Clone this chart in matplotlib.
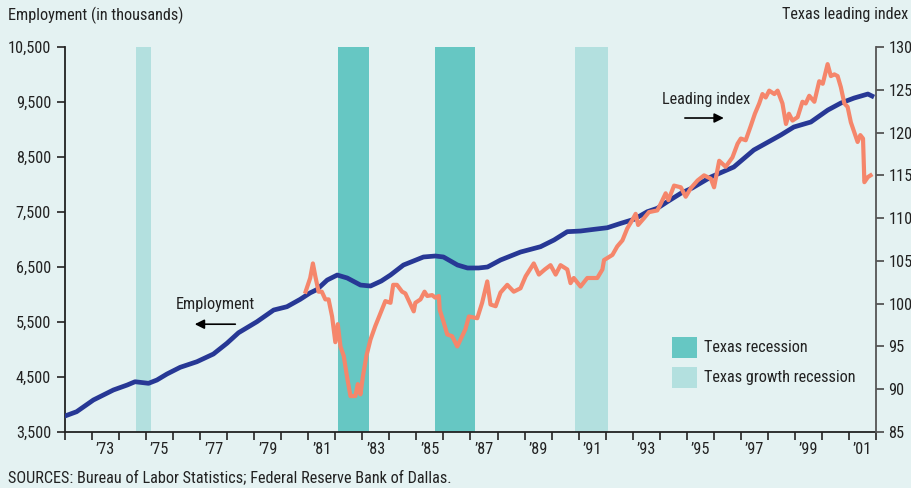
import matplotlib
matplotlib.use("Agg")
import matplotlib.pyplot as plt
from matplotlib.patches import Rectangle
from matplotlib import font_manager as fm

# ---------------- data ----------------
emp_years = [1972.0, 1972.43, 1973.05, 1973.79, 1974.3, 1974.59, 1975.09, 1975.40, 1975.77,
             1976.26, 1976.88, 1977.49, 1977.99, 1978.42, 1979.10, 1979.72, 1980.21, 1980.70,
             1981.07, 1981.32, 1981.7, 1982.07, 1982.44, 1982.93, 1983.30, 1983.7, 1984.04,
             1984.52, 1985.26, 1985.7, 1986.0, 1986.52, 1986.89, 1987.3, 1987.63, 1988.11,
             1988.85, 1989.59, 1990.09, 1990.58, 1991.07, 1991.57, 1992.06, 1992.56, 1993.05,
             1993.54, 1993.91, 1994.28, 1994.78, 1995.2, 1995.89, 1996.74, 1997.48, 1998.48,
             1998.96, 1999.59, 2000.22, 2000.70, 2001.19, 2001.70, 2001.85]
emp_values = [3791, 3869, 4082, 4264, 4354, 4414, 4385, 4445, 4554,
              4676, 4778, 4918, 5113, 5305, 5505, 5718, 5778, 5912,
              6030, 6090, 6263, 6354, 6300, 6172, 6154, 6245, 6354,
              6536, 6682, 6700, 6682, 6536, 6482, 6482, 6500, 6627,
              6772, 6869, 6991, 7142, 7154, 7185, 7214, 7294, 7367,
              7505, 7567, 7687, 7840, 7936, 8136, 8318, 8627, 8900,
              9045, 9136, 9354, 9481, 9572, 9645, 9609]

lead_years = [1980.90, 1981.07, 1981.17, 1981.26, 1981.38, 1981.50, 1981.63, 1981.75, 1981.88,
              1982.00, 1982.09, 1982.19, 1982.31, 1982.43, 1982.56, 1982.74, 1982.83, 1982.93,
              1983.02, 1983.15, 1983.30, 1983.48, 1983.67, 1983.85, 1984.04, 1984.14, 1984.28,
              1984.47, 1984.59, 1984.78, 1984.90, 1984.96, 1985.15, 1985.30, 1985.40, 1985.58,
              1985.70, 1985.83, 1985.86, 1986.01, 1986.14, 1986.32, 1986.51, 1986.69, 1986.81,
              1986.94, 1987.25, 1987.43, 1987.62, 1987.74, 1987.93, 1988.11, 1988.36, 1988.60,
              1988.85, 1989.04, 1989.34, 1989.53, 1989.75, 1989.96, 1990.15, 1990.33, 1990.58,
              1990.70, 1990.82, 1991.07, 1991.32, 1991.69, 1991.88, 1991.94, 1992.25, 1992.43,
              1992.62, 1992.80, 1992.99, 1993.11, 1993.20, 1993.42, 1993.60, 1993.91, 1994.04,
              1994.22, 1994.32, 1994.53, 1994.78, 1994.96, 1995.15, 1995.40, 1995.64, 1995.89,
              1996.01, 1996.20, 1996.44, 1996.69, 1996.88, 1997.00, 1997.18, 1997.37, 1997.52,
              1997.68, 1997.80, 1997.92, 1998.05, 1998.24, 1998.36, 1998.54, 1998.67, 1998.78,
              1998.91, 1999.10, 1999.28, 1999.40, 1999.53, 1999.72, 1999.90, 2000.03, 2000.21,
              2000.33, 2000.46, 2000.58, 2000.70, 2000.83, 2000.95, 2001.07, 2001.20, 2001.32,
              2001.42, 2001.52, 2001.57, 2001.70, 2001.80]
lead_values = [101.4, 103.0, 104.7, 103.2, 101.4, 101.4, 100.5, 100.5, 98.5,
               95.5, 97.6, 95.0, 93.9, 91.5, 89.2, 89.2, 90.6, 89.4,
               91.5, 93.9, 95.8, 97.4, 98.9, 100.3, 100.1, 102.2, 102.2,
               101.4, 101.2, 99.9, 99.1, 100.1, 100.5, 101.4, 100.9, 101.0,
               100.7, 100.9, 99.3, 97.8, 96.4, 96.2, 95.0, 96.2, 97.0,
               98.5, 98.3, 100.1, 102.6, 99.9, 99.7, 101.3, 102.2, 101.4,
               101.8, 103.2, 104.7, 103.4, 104.0, 104.5, 103.4, 104.5, 104.0,
               102.4, 103.0, 102.0, 103.0, 103.0, 104.0, 105.1, 105.7, 106.7,
               107.4, 108.8, 109.8, 110.5, 109.2, 110.0, 110.7, 110.9, 111.7,
               112.9, 112.1, 113.8, 113.6, 112.5, 113.5, 114.4, 115.0, 114.6,
               113.6, 116.7, 116.0, 117.1, 118.7, 119.3, 119.1, 120.8, 122.2,
               123.4, 124.5, 124.1, 124.9, 124.5, 124.9, 123.4, 121.0, 122.2,
               121.4, 121.8, 123.6, 123.4, 124.3, 123.6, 126.0, 125.7, 128.0,
               126.6, 126.8, 126.6, 125.3, 123.4, 123.0, 121.2, 120.0, 118.9,
               119.7, 119.3, 114.2, 114.8, 115.0]

recession_spans = [(1982.10, 1983.25), (1985.69, 1987.17)]
growth_recession_spans = [(1974.63, 1975.18), (1990.87, 1992.09)]

left_ticks = [3500, 4500, 5500, 6500, 7500, 8500, 9500, 10500]
right_ticks = [85, 90, 95, 100, 105, 110, 115, 120, 125, 130]
year_ticks = list(range(1972, 2003))
label_years = list(range(1973, 2002, 2))
year_labels = ["\u2019%02d" % (y % 100) for y in label_years]

# ---------------- font selection (narrow if available) ----------------
def pick_font():
    prefs = ["liberation sans narrow", "arial narrow", "nimbus sans narrow",
             "roboto condensed", "open sans condensed", "noto sans condensed"]
    cands = []
    for f in fm.fontManager.ttflist:
        if f.style != "normal":
            continue
        w = f.weight if isinstance(f.weight, int) else (400 if f.weight in ("normal", "regular", "book") else 700)
        if w != 400:
            continue
        nm = f.name.lower()
        fn = f.fname.lower()
        if any(k in fn for k in ("bold", "italic", "oblique", "light", "thin", "medium", "black")):
            continue
        narrow = ("narrow" in nm or "condensed" in nm or "narrow" in fn or "condensed" in fn)
        if narrow:
            rank = len(prefs)
            for i, p in enumerate(prefs):
                if p in nm or p.replace(" ", "") in fn.replace("-", "").replace("_", ""):
                    rank = i
            if "dejavusanscondensed" in fn.replace("-", ""):
                rank = len(prefs) + 1
            cands.append((rank, f.fname))
    cands.sort()
    if cands:
        return cands[0][1]
    return None

font_path = pick_font()
BG = "#E4F2F2"
TXT = "#222222"
BLUE = "#273895"
SALMON = "#F5866B"
REC = "#66C7C3"
GREC = "#B3E0DF"

fig = plt.figure(figsize=(9.11, 4.88), dpi=100, facecolor=BG)

def fp(size):
    if font_path:
        return fm.FontProperties(fname=font_path, size=size)
    return fm.FontProperties(family="DejaVu Sans", size=size)

# calibrate font size so that the title width matches the reference (~175 px)
probe = fig.text(0, 0, "Employment (in thousands)", fontproperties=fp(12))
fig.canvas.draw()
wpx = probe.get_window_extent().width
probe.remove()
FS = max(7.0, min(12.5, 12 * 175.0 / wpx))
FP = fp(FS)

ax = fig.add_axes([65 / 911, 1 - 432 / 488, 811 / 911, 385 / 488])
ax.set_facecolor(BG)
ax2 = ax.twinx()

for a, b in recession_spans:
    ax.axvspan(a, b, color=REC, lw=0, zorder=0)
for a, b in growth_recession_spans:
    ax.axvspan(a, b, color=GREC, lw=0, zorder=0)

ax.plot(emp_years, emp_values, color=BLUE, lw=3.4, zorder=3)
ax2.plot(lead_years, lead_values, color=SALMON, lw=3.0, zorder=2)

ax.set_xlim(1972, 2002)
ax.set_ylim(3500, 10500)
ax2.set_ylim(85, 130)

ax.set_yticks(left_ticks)
ax.set_yticklabels([f"{v:,}" for v in left_ticks])
ax2.set_yticks(right_ticks)
ax2.set_yticklabels([str(v) for v in right_ticks])

ax.set_xticks(year_ticks)
ax.set_xticklabels([])
ax.set_xticks([y + 0.5 for y in label_years], minor=True)
ax.set_xticklabels(year_labels, minor=True)

ax.tick_params(axis="x", which="major", length=6, width=1.3, color="#333333", direction="out")
ax.tick_params(axis="x", which="minor", length=0, pad=7, labelcolor=TXT)
ax.tick_params(axis="y", length=6, width=1.3, color="#333333", pad=4, labelcolor=TXT)
ax2.tick_params(axis="y", length=6, width=1.3, color="#555555", pad=3, labelcolor=TXT)

for lbl in (ax.get_xticklabels(minor=True) + ax.get_yticklabels() + ax2.get_yticklabels()):
    lbl.set_fontproperties(FP)

for a in (ax, ax2):
    a.spines["top"].set_visible(False)
    a.spines["left"].set_color("#222222")
    a.spines["right"].set_color("#555555")
    a.spines["bottom"].set_color("#222222")
    for s in ("left", "right", "bottom"):
        a.spines[s].set_linewidth(1.3)
ax2.spines["left"].set_visible(False)
ax2.spines["bottom"].set_visible(False)
ax.spines["right"].set_visible(False)

# axis titles and source
fig.text(8 / 911, 1 - 15 / 488, "Employment (in thousands)", ha="left", va="center",
         fontproperties=FP, color=TXT)
fig.text(908 / 911, 1 - 15 / 488, "Texas leading index", ha="right", va="center",
         fontproperties=FP, color=TXT)
fig.text(8 / 911, 1 - 478 / 488, "SOURCES: Bureau of Labor Statistics; Federal Reserve Bank of Dallas.",
         ha="left", va="center", fontproperties=FP, color=TXT)

# annotations (on top axes)
ax2.text(1977.56, 99.85, "Employment", ha="center", va="center", fontproperties=FP, color=TXT, zorder=5)
ax2.annotate("", xy=(1976.80, 97.6), xytext=(1978.30, 97.6),
             arrowprops=dict(arrowstyle="-|>", color="black", lw=1.2, mutation_scale=14,
                             shrinkA=0, shrinkB=0), zorder=5)
ax2.text(1995.70, 123.9, "Leading index", ha="center", va="center", fontproperties=FP, color=TXT, zorder=5)
ax2.annotate("", xy=(1996.37, 121.7), xytext=(1994.93, 121.7),
             arrowprops=dict(arrowstyle="-|>", color="black", lw=1.2, mutation_scale=14,
                             shrinkA=0, shrinkB=0), zorder=5)

# legend (manual)
leg = [("Texas recession", REC, 0.1922, 0.2195), ("Texas growth recession", GREC, 0.1143, 0.1416)]
for label, col, y0, yc in leg:
    ax2.add_patch(Rectangle((0.7485, y0), 0.0308, 0.0545, transform=ax2.transAxes,
                            facecolor=col, edgecolor="none", zorder=5))
    ax2.text(0.788, yc, label, transform=ax2.transAxes, ha="left", va="center",
             fontproperties=FP, color=TXT, zorder=5)

fig.savefig("out.png", dpi=100, facecolor=BG)
